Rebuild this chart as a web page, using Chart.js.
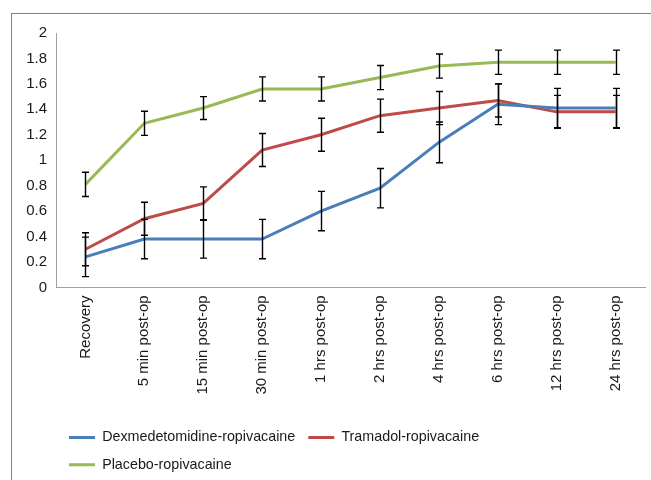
<!DOCTYPE html>
<html>
<head>
<meta charset="utf-8">
<script src="https://cdn.jsdelivr.net/npm/chart.js@4.4.0/dist/chart.umd.min.js"></script>
<style>
    body { margin: 0; background: #fff; overflow: hidden; }
    #frame {
        position: absolute; left: 11px; top: 13px;
        width: 640px; height: 470px;
        border-left: 1px solid #808080; border-top: 1px solid #808080;
    }
</style>
</head>
<body>
<div id="frame"><canvas id="lineChart" width="639" height="470"></canvas></div>
<script>
const timePoints = ['Recovery', '5 min post-op', '15 min post-op', '30 min post-op', '1 hrs post-op',
    '2 hrs post-op', '4 hrs post-op', '6 hrs post-op', '12 hrs post-op', '24 hrs post-op'];

const dexValues = [0.24, 0.38, 0.38, 0.38, 0.60, 0.78, 1.14, 1.44, 1.41, 1.41];
const dexErrors = [0.155, 0.155, 0.15, 0.155, 0.155, 0.155, 0.16, 0.16, 0.155, 0.155];

const tramadolValues = [0.30, 0.54, 0.66, 1.08, 1.20, 1.35, 1.41, 1.47, 1.38, 1.38];
const tramadolErrors = [0.13, 0.13, 0.13, 0.13, 0.13, 0.13, 0.13, 0.13, 0.13, 0.13];

const placeboValues = [0.81, 1.29, 1.41, 1.56, 1.56, 1.65, 1.74, 1.77, 1.77, 1.77];
const placeboErrors = [0.095, 0.095, 0.09, 0.095, 0.095, 0.095, 0.095, 0.095, 0.095, 0.095];

const yTicks = { min: 0, max: 2, step: 0.2 };

const font = { family: '"Liberation Sans", Arial, sans-serif', size: 15 };
const legendFont = { family: '"Liberation Sans", Arial, sans-serif', size: 14.3 };

// draws the black error bars with caps over the lines
const errorBars = {
    id: 'errorBars',
    afterDatasetsDraw(chart) {
        const { ctx, scales: { x, y } } = chart;
        ctx.save();
        ctx.strokeStyle = '#000';
        ctx.lineWidth = 1.4;
        chart.data.datasets.forEach(ds => {
            ds.errors.forEach((e, j) => {
                const px = Math.round(x.getPixelForValue(j)) + 0.5;
                const top = y.getPixelForValue(ds.data[j] + e);
                const bot = y.getPixelForValue(ds.data[j] - e);
                ctx.beginPath();
                ctx.moveTo(px, top);
                ctx.lineTo(px, bot);
                ctx.moveTo(px - 3.5, top);
                ctx.lineTo(px + 3.5, top);
                ctx.moveTo(px - 3.5, bot);
                ctx.lineTo(px + 3.5, bot);
                ctx.stroke();
            });
        });
        ctx.restore();
    }
};

const ctx = document.getElementById('lineChart').getContext('2d');
new Chart(ctx, {
    type: 'line',
    data: {
        labels: timePoints,
        datasets: [
            { label: 'Dexmedetomidine-ropivacaine', data: dexValues, errors: dexErrors,
              borderColor: '#4a7ebb', backgroundColor: '#4a7ebb' },
            { label: 'Tramadol-ropivacaine', data: tramadolValues, errors: tramadolErrors,
              borderColor: '#be4b48', backgroundColor: '#be4b48' },
            { label: 'Placebo-ropivacaine', data: placeboValues, errors: placeboErrors,
              borderColor: '#98b954', backgroundColor: '#98b954' }
        ]
    },
    options: {
        responsive: false,
        animation: false,
        elements: {
            line: { borderWidth: 3, tension: 0 },
            point: { radius: 0, hoverRadius: 0 }
        },
        layout: { padding: { top: 19, right: 6, bottom: 2, left: 0 } },
        scales: {
            x: {
                offset: true,
                grid: { display: false, drawTicks: false },
                border: { display: true, color: '#a0a0a0', width: 1 },
                ticks: { color: '#1a1a1a', font: font, minRotation: 90, maxRotation: 90, padding: 8, autoSkip: false },
                afterFit(scale) { scale.height = 130; }
            },
            y: {
                min: yTicks.min,
                max: yTicks.max,
                grid: { display: false, drawTicks: false },
                border: { display: true, color: '#a0a0a0', width: 1 },
                ticks: {
                    color: '#1a1a1a', font: font, stepSize: yTicks.step, padding: 9,
                    callback: value => String(Number(value.toFixed(1)))
                },
                afterFit(scale) { scale.width = 44; }
            }
        },
        plugins: {
            tooltip: { enabled: false },
            legend: {
                position: 'bottom',
                align: 'start',
                fullSize: false,
                labels: {
                    color: '#1a1a1a',
                    font: legendFont,
                    boxWidth: 26,
                    boxHeight: 3,
                    padding: 13,
                    generateLabels(chart) {
                        return Chart.defaults.plugins.legend.labels.generateLabels(chart).map(item => {
                            item.lineWidth = 0;
                            item.fillStyle = item.strokeStyle;
                            return item;
                        });
                    }
                }
            }
        }
    },
    plugins: [errorBars]
});
</script>
</body>
</html>
